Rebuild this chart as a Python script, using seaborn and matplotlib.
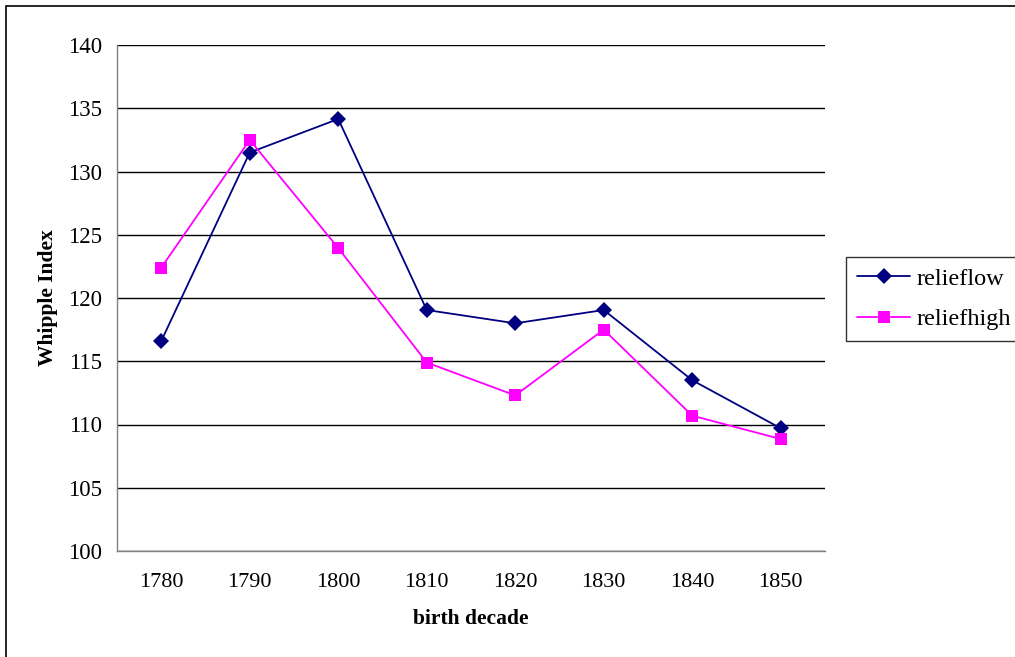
import matplotlib
matplotlib.use("Agg")
import matplotlib.pyplot as plt
import seaborn as sns
import pandas as pd
from matplotlib.patches import Rectangle

decades = ["1780", "1790", "1800", "1810", "1820", "1830", "1840", "1850"]
relieflow = [116.6, 131.5, 134.15, 119.05, 118.0, 119.05, 113.5, 109.7]
reliefhigh = [122.4, 132.5, 123.95, 114.9, 112.3, 117.5, 110.7, 108.85]
y_ticks = [100, 105, 110, 115, 120, 125, 130, 135, 140]

sns.set_style("white")
plt.rcParams['font.family'] = ['Liberation Serif', 'DejaVu Serif']
plt.rcParams['text.color'] = '#000000'
plt.rcParams['axes.labelcolor'] = '#000000'
plt.rcParams['xtick.color'] = '#000000'
plt.rcParams['ytick.color'] = '#000000'

df = pd.DataFrame({
    "decade": decades * 2,
    "value": relieflow + reliefhigh,
    "series": ["relieflow"] * len(decades) + ["reliefhigh"] * len(decades),
})

W, H = 1015, 657
fig = plt.figure(figsize=(W / 100, H / 100), dpi=100)
ax = fig.add_axes([117 / W, 1 - 551 / H, (825 - 117) / W, (551 - 45) / H])

sns.lineplot(data=df, x="decade", y="value", hue="series", style="series",
             palette={"relieflow": "#000080", "reliefhigh": "#FF00FF"},
             markers={"relieflow": "D", "reliefhigh": "s"},
             dashes={"relieflow": "", "reliefhigh": ""},
             markersize=8.5, linewidth=1.3, markeredgewidth=0,
             ax=ax, legend=True, sort=False)

ax.set_xlim(-0.5, len(decades) - 0.5)
ax.set_ylim(100, 140)
ax.set_yticks(y_ticks)
ax.set_yticklabels([str(v) for v in y_ticks])
ax.set_xticks(range(len(decades)))
ax.set_xticklabels(decades)
ax.set_xticks([i - 0.5 for i in range(len(decades) + 1)], minor=True)
ax.tick_params(axis="x", which="major", length=0, pad=16, labelsize=16, labelcolor="#000000")
ax.tick_params(axis="x", which="minor", length=7, width=1, direction="out", color="#000000")
ax.tick_params(axis="y", length=7, width=1, direction="out", color="#000000",
               labelsize=16.5, pad=4, labelcolor="#000000")
ax.yaxis.grid(True, color="#000000", linewidth=1)
ax.xaxis.grid(False)
for s in ["top", "right"]:
    ax.spines[s].set_visible(False)
for s in ["left", "bottom"]:
    ax.spines[s].set_color("#808080")
    ax.spines[s].set_linewidth(1)
ax.set_axisbelow(True)

ax.set_xlabel("birth decade", fontsize=15.5, fontweight="bold", labelpad=12, color="#000000")
ax.set_ylabel("Whipple Index", fontsize=15.5, fontweight="bold", labelpad=7, color="#000000")

handles, labels = ax.get_legend_handles_labels()
leg = ax.legend(handles, labels, loc="upper left",
                bbox_to_anchor=(846 / W, 1 - 257 / H), bbox_transform=fig.transFigure,
                frameon=True, fancybox=False, edgecolor="#000000", fontsize=17.5,
                handlelength=2.2, borderpad=0.45, labelspacing=0.75, handletextpad=0.25,
                borderaxespad=0, title=None)
leg.get_frame().set_linewidth(1)
for t in leg.get_texts():
    t.set_color("#000000")

fig.patches.append(Rectangle((6 / W, -0.05), 1.2, 1 - 6 / H + 0.05,
                             transform=fig.transFigure, fill=False,
                             edgecolor="#000000", linewidth=1.2))

fig.savefig("out.png", dpi=100)
